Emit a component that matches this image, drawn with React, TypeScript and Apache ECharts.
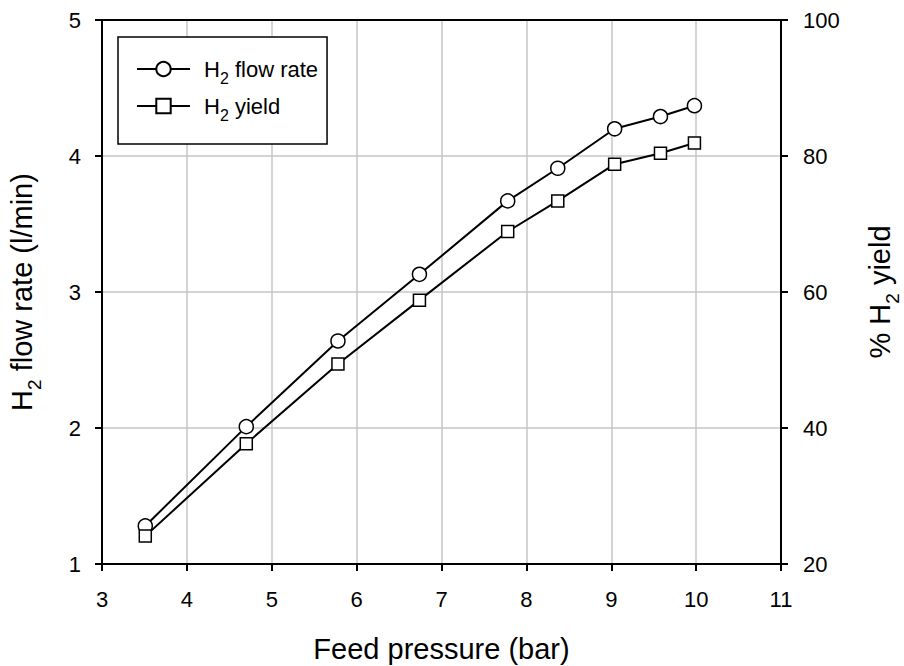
import React, { useEffect, useRef } from 'react';
import * as echarts from 'echarts';

const pressure = [3.51, 4.7, 5.78, 6.74, 7.78, 8.37, 9.04, 9.58, 9.98];
const flowRate = [1.28, 2.01, 2.64, 3.13, 3.67, 3.91, 4.2, 4.29, 4.37];
const yieldPct = [24.1, 37.7, 49.4, 58.8, 68.9, 73.4, 78.8, 80.4, 81.9];
const seriesNames = ['H2 flow rate', 'H2 yield'];
const legendRest = [' flow rate', ' yield'];
const xTitle = 'Feed pressure (bar)';
const yLeftRest = ' flow rate (l/min)';
const yRightPre = '% ';
const yRightRest = ' yield';

const FONT = '"Liberation Sans", Arial, sans-serif';
const BLACK = '#000';
const GRID = '#c6c6c6';

export default function App() {
  const ref = useRef<HTMLDivElement>(null);
  useEffect(() => {
    if (!ref.current) return;
    const chart = echarts.init(ref.current, null, { renderer: 'svg' });
    const flowData = pressure.map((x, i) => [x, flowRate[i]]);
    const yieldData = pressure.map((x, i) => [x, yieldPct[i]]);
    const titleRich = {
      h: { fontSize: 29, lineHeight: 34, fontFamily: FONT, color: BLACK },
      s: { fontSize: 19, lineHeight: 4, padding: [24, 0, 0, 0], fontFamily: FONT, color: BLACK },
    };
    const option: any = {
      animation: false,
      textStyle: { fontFamily: FONT, color: BLACK },
      grid: { left: 102, right: 123, top: 20, bottom: 102, containLabel: false, outerBoundsMode: 'none' },
      legend: {
        orient: 'vertical',
        left: 118,
        top: 37,
        padding: [15, 9, 21, 18],
        borderColor: BLACK,
        borderWidth: 1.5,
        borderRadius: 0,
        backgroundColor: '#fff',
        itemWidth: 53,
        itemHeight: 18,
        itemGap: 3,
        data: seriesNames,
        formatter: (n: string) => `{h|H}{s|2}{t|${legendRest[seriesNames.indexOf(n)]}}`,
        textStyle: {
          rich: {
            h: { fontSize: 22, lineHeight: 40, padding: [0, 0, 0, 9], fontFamily: FONT, color: BLACK },
            s: { fontSize: 16, lineHeight: 4, padding: [18, 0, 0, 0], fontFamily: FONT, color: BLACK },
            t: { fontSize: 22, lineHeight: 40, fontFamily: FONT, color: BLACK },
          },
        },
      },
      xAxis: [
        {
          type: 'value', min: 3, max: 11, interval: 1, position: 'bottom',
          name: xTitle, nameLocation: 'middle', nameGap: 70,
          nameTextStyle: { fontSize: 29, color: BLACK, fontFamily: FONT },
          axisLine: { show: true, onZero: false, lineStyle: { color: BLACK, width: 2 } },
          axisTick: { show: true, inside: false, length: 7, lineStyle: { color: BLACK, width: 2 } },
          axisLabel: { fontSize: 22, margin: 24, color: BLACK, fontFamily: FONT },
          splitLine: { show: true, showMinLine: false, showMaxLine: false, lineStyle: { color: GRID, width: 1.5 } },
        },
        {
          type: 'value', min: 3, max: 11, interval: 1, position: 'top',
          axisLine: { show: true, onZero: false, lineStyle: { color: BLACK, width: 2 } },
          axisTick: { show: false }, axisLabel: { show: false }, splitLine: { show: false },
        },
      ],
      yAxis: [
        {
          type: 'value', min: 1, max: 5, interval: 1, position: 'left',
          name: `{h|H}{s|2}{h|${yLeftRest}}`, nameLocation: 'middle', nameGap: 63, nameRotate: 90,
          nameTextStyle: { rich: titleRich },
          axisLine: { show: true, onZero: false, lineStyle: { color: BLACK, width: 2 } },
          axisTick: { show: true, inside: false, length: 7, lineStyle: { color: BLACK, width: 2 } },
          axisLabel: { fontSize: 22, margin: 21, color: BLACK, fontFamily: FONT },
          splitLine: { show: true, showMinLine: false, showMaxLine: false, lineStyle: { color: GRID, width: 1.5 } },
        },
        {
          type: 'value', min: 20, max: 100, interval: 20, position: 'right',
          name: `{h|${yRightPre}H}{s|2}{h|${yRightRest}}`, nameLocation: 'middle', nameGap: 82, nameRotate: 90,
          nameTextStyle: { rich: titleRich },
          axisLine: { show: true, onZero: false, lineStyle: { color: BLACK, width: 2 } },
          axisTick: { show: true, inside: false, length: 7, lineStyle: { color: BLACK, width: 2 } },
          axisLabel: { fontSize: 22, margin: 22, color: BLACK, fontFamily: FONT },
          splitLine: { show: false },
        },
      ],
      series: [
        {
          name: seriesNames[0], type: 'line', xAxisIndex: 0, yAxisIndex: 0, data: flowData,
          symbol: 'circle', symbolSize: 14, z: 3,
          lineStyle: { color: BLACK, width: 2 },
          itemStyle: { color: '#fff', borderColor: BLACK, borderWidth: 1.5 },
        },
        {
          name: seriesNames[1], type: 'line', xAxisIndex: 0, yAxisIndex: 1, data: yieldData,
          symbol: 'rect', symbolSize: 12, z: 3,
          lineStyle: { color: BLACK, width: 2 },
          itemStyle: { color: '#fff', borderColor: BLACK, borderWidth: 1.5 },
        },
      ],
    };
    chart.setOption(option);
    return () => chart.dispose();
  }, []);
  return <div ref={ref} style={{ position: 'absolute', left: 0, top: 0, width: 904, height: 666 }} />;
}
